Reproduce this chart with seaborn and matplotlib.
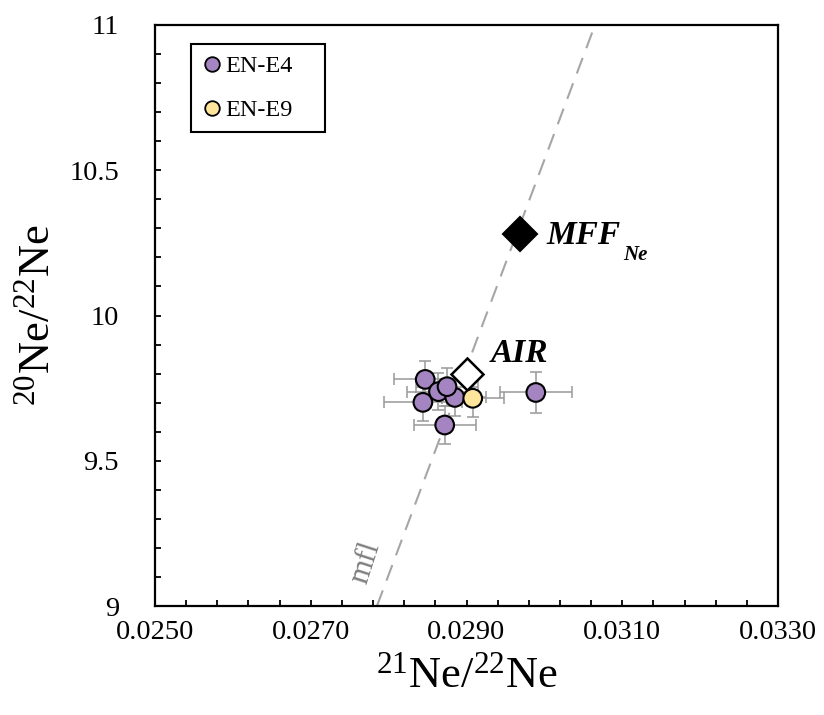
"""Ne three-isotope plot: 20Ne/22Ne vs 21Ne/22Ne for EN-E4 and EN-E9."""

import matplotlib
matplotlib.use("Agg")
import matplotlib.pyplot as plt
from matplotlib.lines import Line2D
from matplotlib.ticker import MultipleLocator, FormatStrFormatter
import numpy as np
import pandas as pd
import seaborn as sns

# Sample data
e4_x = [0.02847, 0.02844, 0.02864, 0.02885, 0.02875, 0.02872, 0.02989]
e4_y = [9.780, 9.701, 9.738, 9.718, 9.755, 9.623, 9.735]
e4_xerr = [0.0004, 0.0005, 0.0004, 0.0004, 0.0004, 0.0004, 0.00046]
e4_yerr = [0.065, 0.065, 0.065, 0.065, 0.065, 0.065, 0.07]

e9_x = [0.02908]
e9_y = [9.715]
e9_xerr = [0.0004]
e9_yerr = [0.065]

# Reference compositions
air = (0.0290, 9.80)
mff = (0.02969, 10.28)

# mass fractionation line
mfl_x = [0.02785, 0.03065]
mfl_y = [9.0, 11.0]

colors = {"EN-E4": "#a585c1", "EN-E9": "#fde59b"}


def main() -> None:
    sns.set_theme(style="ticks")
    plt.rcParams["font.family"] = ["Liberation Serif", "DejaVu Serif"]
    plt.rcParams["mathtext.fontset"] = "custom"
    plt.rcParams["mathtext.rm"] = "Liberation Serif"
    plt.rcParams["mathtext.it"] = "Liberation Serif:italic"
    plt.rcParams["text.color"] = "black"
    plt.rcParams["axes.labelcolor"] = "black"

    df = pd.DataFrame({
        "x": e4_x + e9_x,
        "y": e4_y + e9_y,
        "xerr": e4_xerr + e9_xerr,
        "yerr": e4_yerr + e9_yerr,
        "sample": ["EN-E4"] * len(e4_x) + ["EN-E9"] * len(e9_x),
    })

    fig = plt.figure(figsize=(8.24, 7.15), dpi=100)
    ax = fig.add_axes([155 / 824, 1 - 606 / 715, 623 / 824, 581 / 715])

    # mfl
    ax.plot(mfl_x, mfl_y, color="#a6a6a6", lw=1.5, ls=(0, (8, 5)), zorder=1)

    ax.errorbar(df["x"], df["y"], xerr=df["xerr"], yerr=df["yerr"], fmt="none",
                ecolor="#999999", elinewidth=1.1, capsize=4, capthick=1.1, zorder=2)

    ax.plot(*air, marker="D", ms=16, mfc="white", mec="black", mew=1.8, zorder=3)
    ax.plot(*mff, marker="D", ms=17.5, mfc="black", mec="black", mew=1.5, zorder=3)

    sns.scatterplot(data=df, x="x", y="y", hue="sample", palette=colors, s=180,
                    edgecolor="black", linewidth=1.5, legend=False, zorder=4, ax=ax)

    ax.text(0.02931, 9.841, "AIR", fontsize=24, fontweight="bold", style="italic")
    t = ax.text(0.03003, 10.245, "MFF", fontsize=24, fontweight="bold", style="italic")
    ax.annotate("Ne", xy=(1, 0), xycoords=t, xytext=(2, -9), textcoords="offset pixels",
                fontsize=15, fontweight="bold", style="italic", va="baseline")
    ax.text(0.02771, 9.15, "mfl", fontsize=22, color="#7f7f7f", rotation=72,
            ha="center", va="center")

    ax.set_xlim(0.025, 0.033)
    ax.set_ylim(9, 11)
    ax.xaxis.set_major_locator(MultipleLocator(0.002, offset=0.001))
    ax.xaxis.set_minor_locator(MultipleLocator(0.0004, offset=0.0002))
    ax.yaxis.set_major_locator(MultipleLocator(0.5))
    ax.yaxis.set_minor_locator(MultipleLocator(0.1))
    ax.xaxis.set_major_formatter(FormatStrFormatter("%.4f"))
    ax.yaxis.set_major_formatter(FormatStrFormatter("%g"))
    ax.tick_params(axis="both", which="both", direction="in", length=4.5, width=1.3,
                   color="black", labelsize=20.5, labelcolor="black")
    ax.tick_params(axis="y", which="major", pad=26)
    ax.tick_params(axis="x", which="major", pad=10)
    for s in ax.spines.values():
        s.set_linewidth(1.6)
        s.set_color("black")

    ax.set_xlabel(r"$^{21}$Ne/$^{22}$Ne", fontsize=32, labelpad=8)
    ax.set_ylabel(r"$^{20}$Ne/$^{22}$Ne", fontsize=32, labelpad=8)

    handles = [Line2D([0], [0], marker="o", ls="none", ms=10.5, mfc=colors[k],
                      mec="black", mew=1.3, label=k) for k in colors]
    leg = ax.legend(handles=handles, loc="upper left",
                    bbox_to_anchor=(0.058, 0.819, 0.215, 0.148), mode="expand",
                    borderaxespad=0, fontsize=17.5, frameon=True, fancybox=False,
                    framealpha=1, edgecolor="black", handlelength=0.8,
                    handletextpad=0.15, labelspacing=0.9, borderpad=0.45)
    leg.get_frame().set_linewidth(1.5)

    fig.savefig("out.png", dpi=100)


if __name__ == "__main__":
    main()
